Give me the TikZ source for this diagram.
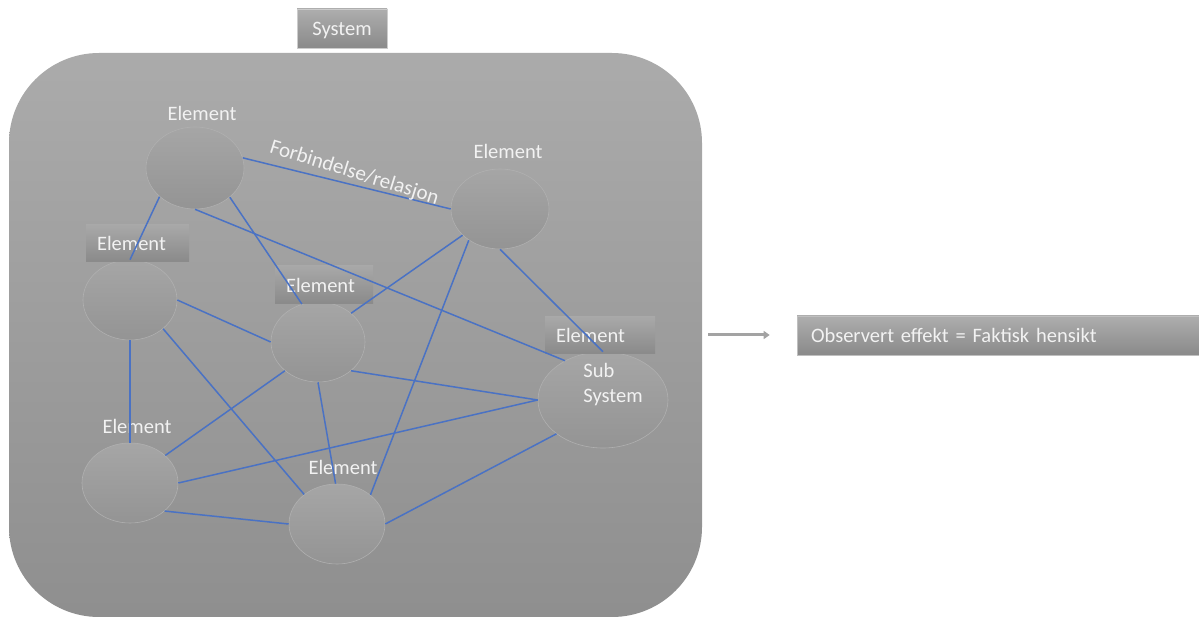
\documentclass[tikz,border=0pt]{standalone}
\usepackage{fontspec}
\setmainfont{Carlito}
\usetikzlibrary{arrows.meta,shapes.geometric}
\definecolor{linkblue}{HTML}{4A72C4}
\definecolor{txt}{HTML}{F2F2F2}
\tikzset{
  bigbox/.style={rectangle, rounded corners=90pt, top color=black!33, bottom color=black!44, draw=none, inner sep=0pt},
  elem/.style={ellipse, inner sep=0pt, top color=black!35, bottom color=black!42, draw=black!31, line width=0.6pt},
  lblbox/.style={rectangle, inner ysep=0pt, inner xsep=11pt, top color=black!34, bottom color=black!46, text=txt, align=left},
  tagbox/.style={rectangle, inner sep=0pt, top color=black!32, bottom color=black!46, draw=black!20, line width=0.6pt, text=txt},
  freetext/.style={text=txt, inner sep=0pt},
  link/.style={draw=linkblue, line width=1.5pt},
  outarrow/.style={draw=black!36, line width=3pt, -{Triangle[length=6pt,width=8pt]}},
  every node/.style={font=\fontsize{20.5}{25}\selectfont}
}
\begin{document}
\begin{tikzpicture}[x=1pt,y=-1pt]
\useasboundingbox (0,0) rectangle (1199,617);

% system boundary and its title
\node[bigbox, minimum width=693pt, minimum height=564pt] (S) at (355.5,335) {};
\node[tagbox, minimum width=90pt, minimum height=39pt, text depth=0pt] (title) at (342,28.5) {System};

% elements
\node[elem, minimum width=98pt, minimum height=82pt] (E1) at (195,168) {};
\node[elem, minimum width=98pt, minimum height=80pt] (E2) at (500,209) {};
\node[elem, minimum width=94pt, minimum height=80pt] (E3) at (130,300) {};
\node[elem, minimum width=94pt, minimum height=80pt] (E4) at (318,342) {};
\node[elem, minimum width=130pt, minimum height=96pt] (E5) at (603,400) {};
\node[elem, minimum width=96pt, minimum height=80pt] (E6) at (130,483) {};
\node[elem, minimum width=96pt, minimum height=80pt] (E7) at (337,524) {};

% element labels
\node[freetext] (L1) at (202,113) {Element};
\node[freetext] (L2) at (508,151) {Element};
\node[lblbox, text width=81pt, minimum height=37pt] (L3) at (137.5,243.5) {Element};
\node[lblbox, text width=76pt, minimum height=38pt] (L4) at (324,285) {Element};
\node[lblbox, text width=88pt, minimum height=37pt] (L5) at (600,335.5) {Element};
\node[freetext] (L6) at (137,426) {Element};
\node[freetext] (L7) at (343,467) {Element};
\node[freetext, align=left] (L5b) at (613,385) {Sub\\System};

% relations
\draw[link] (E1.12) -- (E2.180)
  node[freetext, pos=0.52, above=2pt, sloped, rotate=-3.5, font=\fontsize{21}{25}\selectfont] (rel) {Forbindelse/relasjon};
\draw[link] (E1.219) -- (E3.90);
\draw[link] (E1.320) -- (E4.113);
\draw[link] (E1.270) -- (E5.134);
\draw[link] (E2.215) -- (E4.41);
\draw[link] (E2.225) -- (E7.41);
\draw[link] (E2.270) -- (E5.90);
\draw[link] (E3.0) -- (E4.180);
\draw[link] (E3.270) -- (E6.90);
\draw[link] (E3.319) -- (E7.138);
\draw[link] (E4.221) -- (E6.38);
\draw[link] (E4.270) -- (E7.92);
\draw[link] (E4.319) -- (E5.180);
\draw[link] (E6.0) -- (E5.180);
\draw[link] (E6.321) -- (E7.180);
\draw[link] (E7.0) -- (E5.216);

% outcome
\node[tagbox, draw=black!25, text width=374pt, inner xsep=14pt, minimum height=39pt, align=left] (eff) at (998,335.5) {Observert effekt = Faktisk hensikt};
\draw[outarrow, shorten <=6pt, shorten >=27pt] (S.east) -- (S.east -| eff.west);
\end{tikzpicture}
\end{document}
